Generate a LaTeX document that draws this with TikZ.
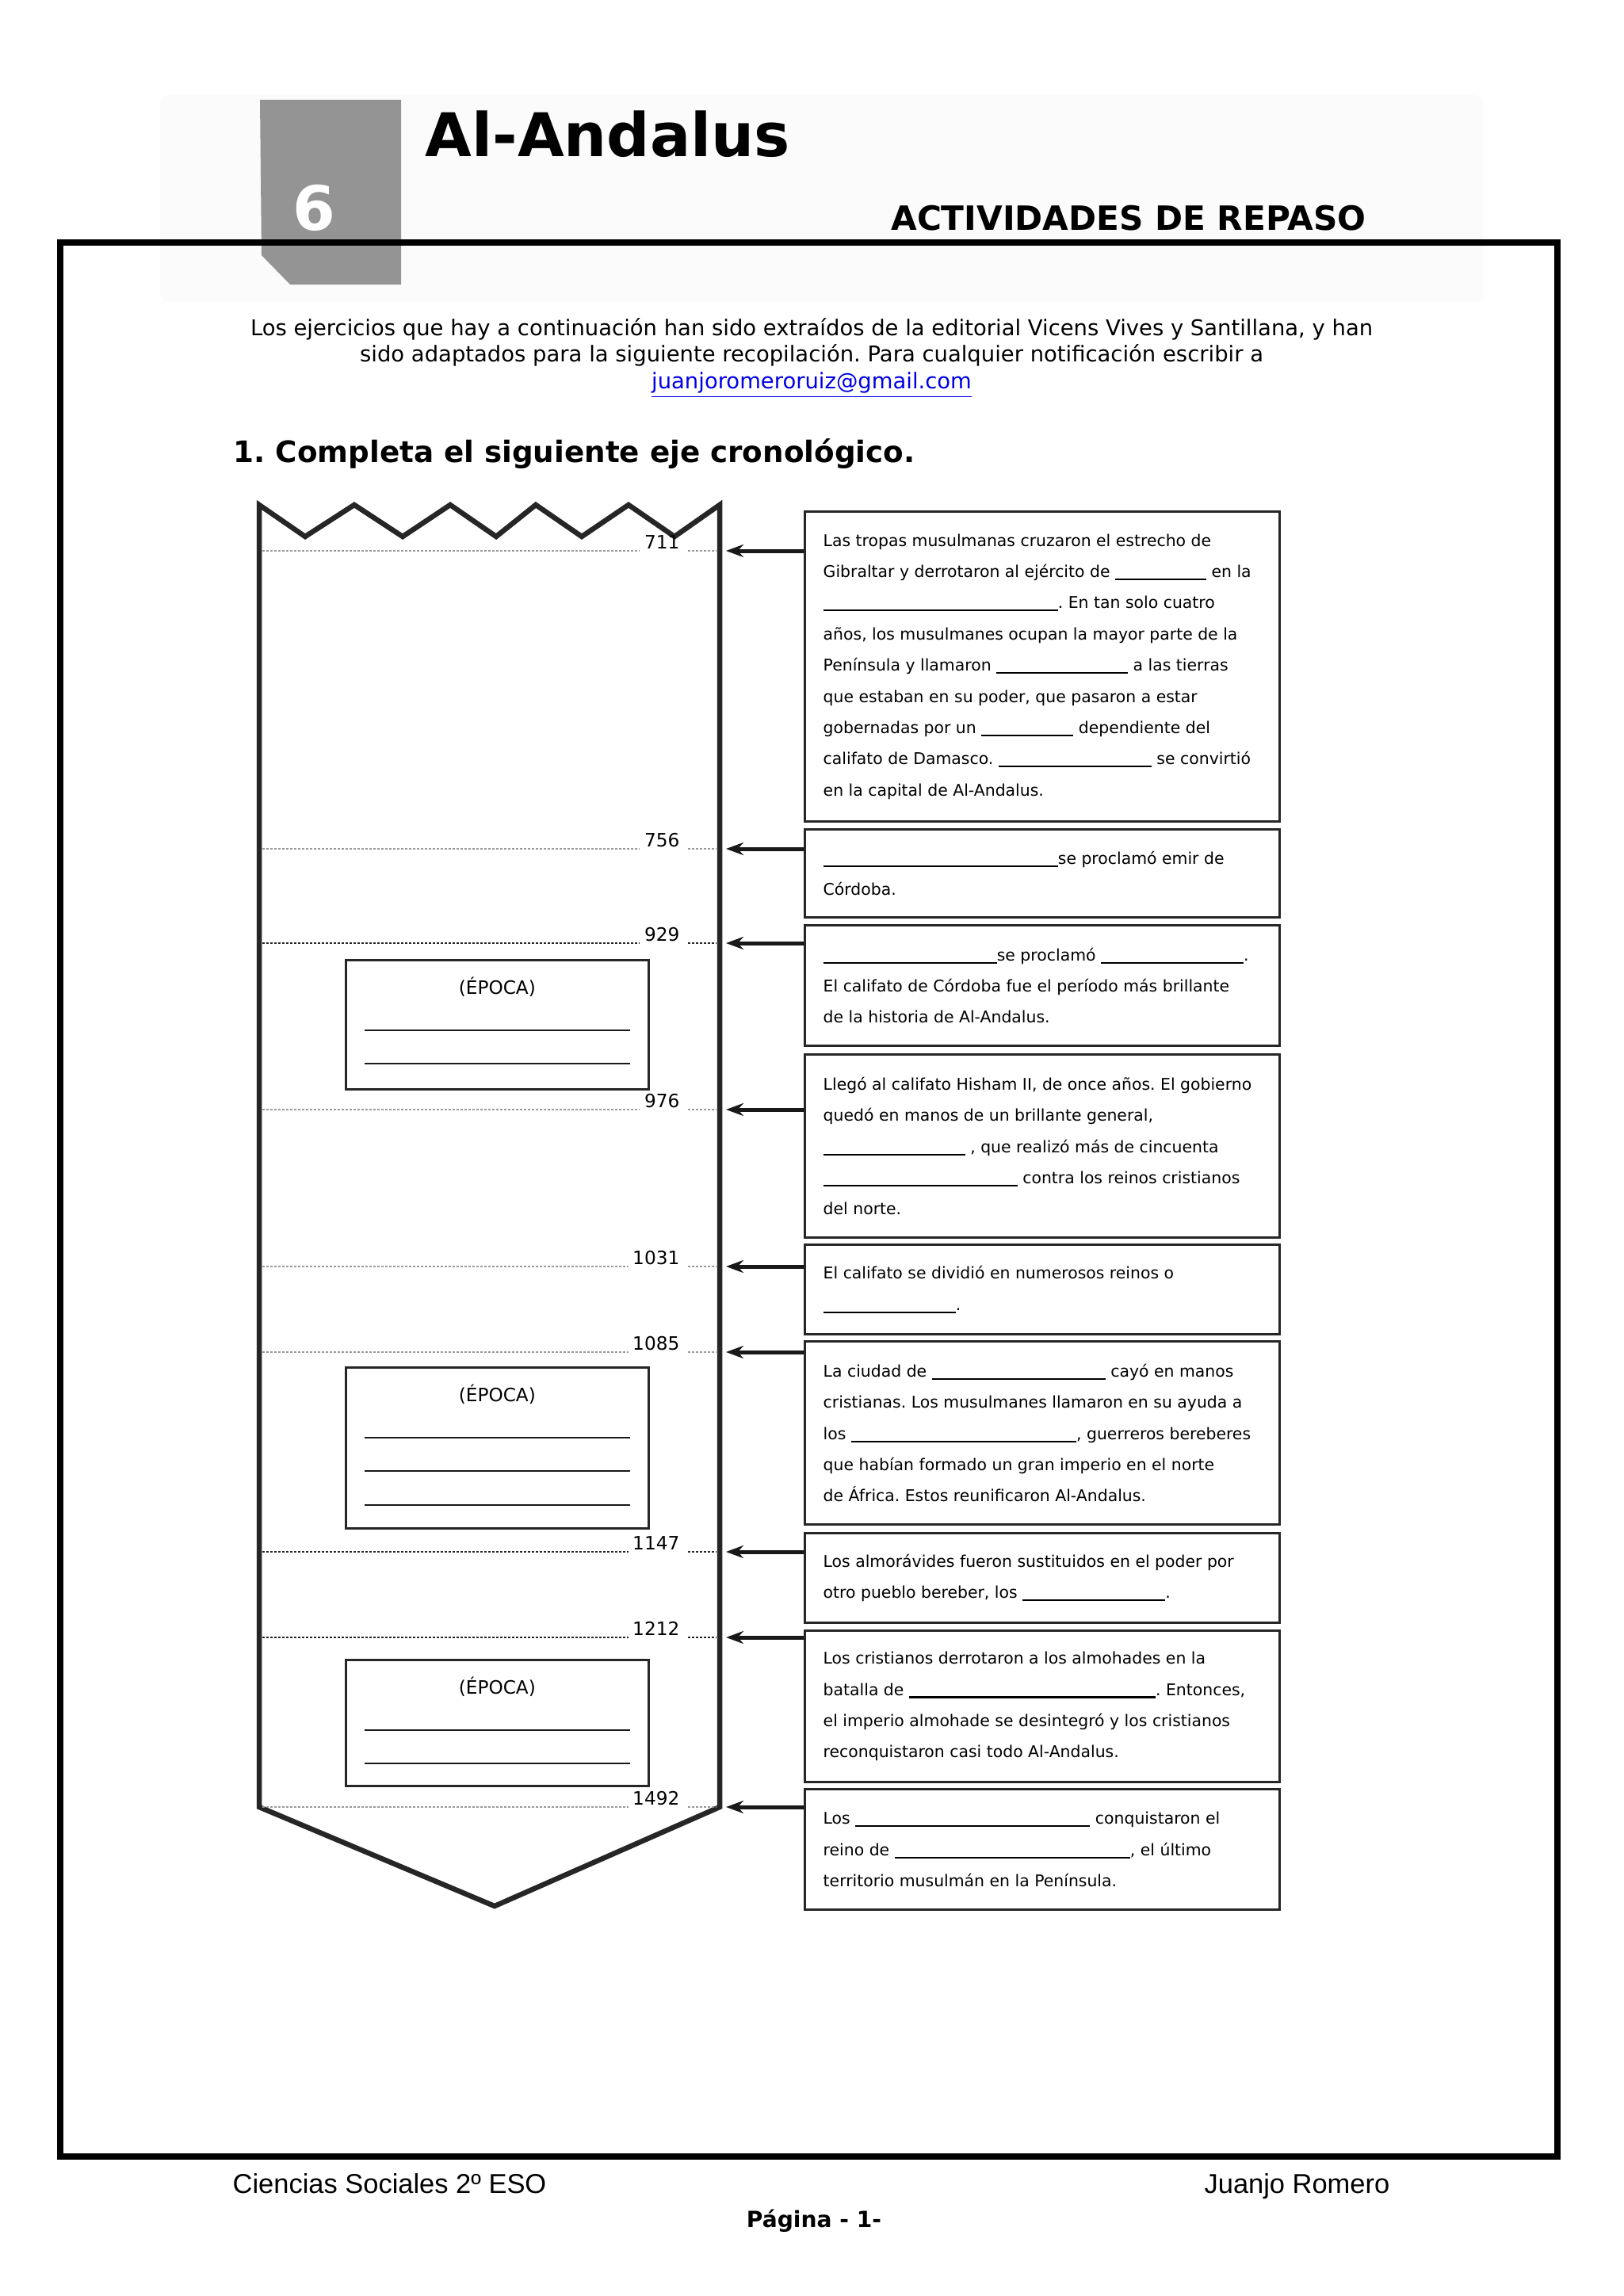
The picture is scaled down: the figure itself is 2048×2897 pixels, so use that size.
\documentclass[tikz,border=0pt]{standalone}
\usepackage{fontspec}
\setmainfont{DejaVu Sans}
\newfontfamily\arialfont{Liberation Sans}
\usepackage{xcolor}
\usetikzlibrary{arrows.meta,calc,positioning}
\definecolor{linkblue}{RGB}{0,0,230}
\newcommand{\hueco}[1]{\rule[-1pt]{#1}{0.6pt}}
\frenchspacing
\tikzset{
  marco/.style={line width=0.08cm,draw=black},
  tira/.style={line width=0.065cm,draw=black!85,line join=miter},
  cuadro/.style={draw=black!85,line width=0.03cm,anchor=north west,minimum width=5.99cm,inner sep=0pt},
  texto/.style={align=left,inner sep=0pt,font=\fontsize{5.8}{11.2}\selectfont},
  epocabox/.style={draw=black!85,line width=0.025cm,anchor=north west,minimum width=3.82cm,inner sep=0pt},
  epoca/.style={font=\fontsize{6.6}{8}\selectfont,inner sep=0pt},
  raya/.style={line width=0.025cm,black!90},
  anio/.style={font=\fontsize{6.6}{8}\selectfont,inner sep=0pt,anchor=base east},
  puntos/.style={line width=0.025cm,dash pattern=on 0.03cm off 0.02cm},
  flecha/.style={-{Stealth[length=0.22cm,width=0.16cm]},line width=0.05cm,black!90}
}
\begin{document}
\begin{tikzpicture}[x=0.01cm,y=-0.01cm,every node/.style={inner sep=0pt}]
  \useasboundingbox (0,0) rectangle (2048,2897);
  % cabecera
  \fill[black!1.5,rounded corners=0.1cm] (202,120) rectangle (1871,380);
  \fill[black!42] (328,126) -- (506,126) -- (506,359) -- (366,359) -- (330,322) -- cycle;
  \node[text=white,font=\fontsize{22}{24}\selectfont\bfseries] (num) at (396,262) {6};
  \node[font=\fontsize{21.6}{24}\selectfont\bfseries,anchor=base west] (titulo) at (536,198) {Al-Andalus};
  \node[font=\fontsize{12}{14}\selectfont\bfseries,anchor=base east] (repaso) at (1724,290) {ACTIVIDADES DE REPASO};
  \draw[marco] (76,306) rectangle (1965,2721);
  % introduccion
  \node[font=\fontsize{7.8}{9.5}\selectfont,anchor=base] (intro1) at (1024,423) {Los ejercicios que hay a continuación han sido extraídos de la editorial Vicens Vives y Santillana, y han};
  \node[font=\fontsize{7.8}{9.5}\selectfont,anchor=base] (intro2) at (1024,456) {sido adaptados para la siguiente recopilación. Para cualquier notificación escribir a};
  \node[font=\fontsize{7.8}{9.5}\selectfont,anchor=base,text=linkblue] (correo) at (1024,490) {\underline{juanjoromeroruiz@gmail.com}};
  \node[font=\fontsize{10.6}{12}\selectfont\bfseries,anchor=base west] (ejercicio) at (294,583) {1. Completa el siguiente eje cronológico.};
  % eje
  \draw[tira] (327,637) -- (385,677) -- (447,637) -- (508,677) -- (568,637) -- (626,677) -- (676,637) -- (734,677) -- (793,637) -- (851,677) -- (908,637) -- (908,2280) -- (624,2405) -- (327,2280) -- cycle;
  % cuadros de texto
  \node[cuadro,minimum height=3.91cm] (b711) at (1014,644) {};
  \node[texto,right=0.24cm of b711.west] (t711) {Las tropas musulmanas cruzaron el estrecho de\\
    Gibraltar y derrotaron al ejército de \hueco{1.15cm} en la\\
    \hueco{2.96cm}. En tan solo cuatro\\
    años, los musulmanes ocupan la mayor parte de la\\
    Península y llamaron \hueco{1.66cm} a las tierras\\
    que estaban en su poder, que pasaron a estar\\
    gobernadas por un \hueco{1.16cm} dependiente del\\
    califato de Damasco. \hueco{1.93cm} se convirtió\\
    en la capital de Al-Andalus.};
  \node[cuadro,minimum height=1.11cm] (b756) at (1014,1045) {};
  \node[texto,right=0.24cm of b756.west] (t756) {\hueco{2.96cm}se proclamó emir de\\
    Córdoba.};
  \node[cuadro,minimum height=1.52cm] (b929) at (1014,1166) {};
  \node[texto,right=0.24cm of b929.west] (t929) {\hueco{2.19cm}se proclamó \hueco{1.80cm}.\\
    El califato de Córdoba fue el período más brillante\\
    de la historia de Al-Andalus.};
  \node[cuadro,minimum height=2.31cm] (b976) at (1014,1329) {};
  \node[texto,right=0.24cm of b976.west] (t976) {Llegó al califato Hisham II, de once años. El gobierno\\
    quedó en manos de un brillante general,\\
    \hueco{1.79cm} , que realizó más de cincuenta\\
    \hueco{2.45cm} contra los reinos cristianos\\
    del norte.};
  \node[cuadro,minimum height=1.13cm] (b1031) at (1014,1569) {};
  \node[texto,right=0.24cm of b1031.west] (t1031) {El califato se dividió en numerosos reinos o\\
    \hueco{1.67cm}.};
  \node[cuadro,minimum height=2.31cm] (b1085) at (1014,1691) {};
  \node[texto,right=0.24cm of b1085.west] (t1085) {La ciudad de \hueco{2.19cm} cayó en manos\\
    cristianas. Los musulmanes llamaron en su ayuda a\\
    los \hueco{2.84cm}, guerreros bereberes\\
    que habían formado un gran imperio en el norte\\
    de África. Estos reunificaron Al-Andalus.};
  \node[cuadro,minimum height=1.13cm] (b1147) at (1014,1933) {};
  \node[texto,right=0.24cm of b1147.west] (t1147) {Los almorávides fueron sustituidos en el poder por\\
    otro pueblo bereber, los \hueco{1.80cm}.};
  \node[cuadro,minimum height=1.91cm] (b1212) at (1014,2056) {};
  \node[texto,right=0.24cm of b1212.west] (t1212) {Los cristianos derrotaron a los almohades en la\\
    batalla de \hueco{3.11cm}. Entonces,\\
    el imperio almohade se desintegró y los cristianos\\
    reconquistaron casi todo Al-Andalus.};
  \node[cuadro,minimum height=1.52cm] (b1492) at (1014,2256) {};
  \node[texto,right=0.24cm of b1492.west] (t1492) {Los \hueco{2.96cm} conquistaron el\\
    reino de \hueco{2.97cm}, el último\\
    territorio musulmán en la Península.};
  % fechas, lineas de puntos y flechas
  \foreach \an/\yy/\tono in {711/695/black!40,756/1071/black!40,929/1190/black!85,976/1400/black!40,1031/1598/black!40,1085/1706/black!40,1147/1958/black!85,1212/2066/black!85,1492/2280/black!40}{
    \coordinate (p\an) at (916,\yy);
    \node[anio] (a\an) at (858,{\yy-3}) {\an};
    \draw[puntos,\tono] (331,\yy) -- ($(a\an.west |- p\an)+(-5,0)$);
    \draw[puntos,\tono] ($(a\an.east |- p\an)+(10,0)$) -- (904,\yy);
    \draw[flecha] (b\an.west |- p\an) -- (p\an);
  }
  % epocas
  \node[epocabox,minimum height=1.63cm] (e1) at (435,1210) {};
  \node[epocabox,minimum height=2.03cm] (e2) at (435,1724) {};
  \node[epocabox,minimum height=1.59cm] (e3) at (435,2093) {};
  \foreach \ep in {e1,e2,e3}{
    \node[epoca] (l\ep) at ($(\ep.north)+(0,35)$) {(ÉPOCA)};
    \draw[raya] ($(\ep.north west)+(25,90)$) -- ($(\ep.north east)+(-25,90)$);
    \draw[raya] ($(\ep.north west)+(25,132)$) -- ($(\ep.north east)+(-25,132)$);
  }
  \draw[raya] ($(e2.north west)+(25,175)$) -- ($(e2.north east)+(-25,175)$);
  % pie
  \node[font=\arialfont\fontsize{9.8}{12}\selectfont,anchor=base west] (asignatura) at (293,2767) {Ciencias Sociales 2º ESO};
  \node[font=\arialfont\fontsize{9.8}{12}\selectfont,anchor=base east] (autor) at (1754,2767) {Juanjo Romero};
  \node[font=\fontsize{8}{10}\selectfont\bfseries,anchor=base] (pagina) at (1027,2810) {Página - 1-};
\end{tikzpicture}
\end{document}
